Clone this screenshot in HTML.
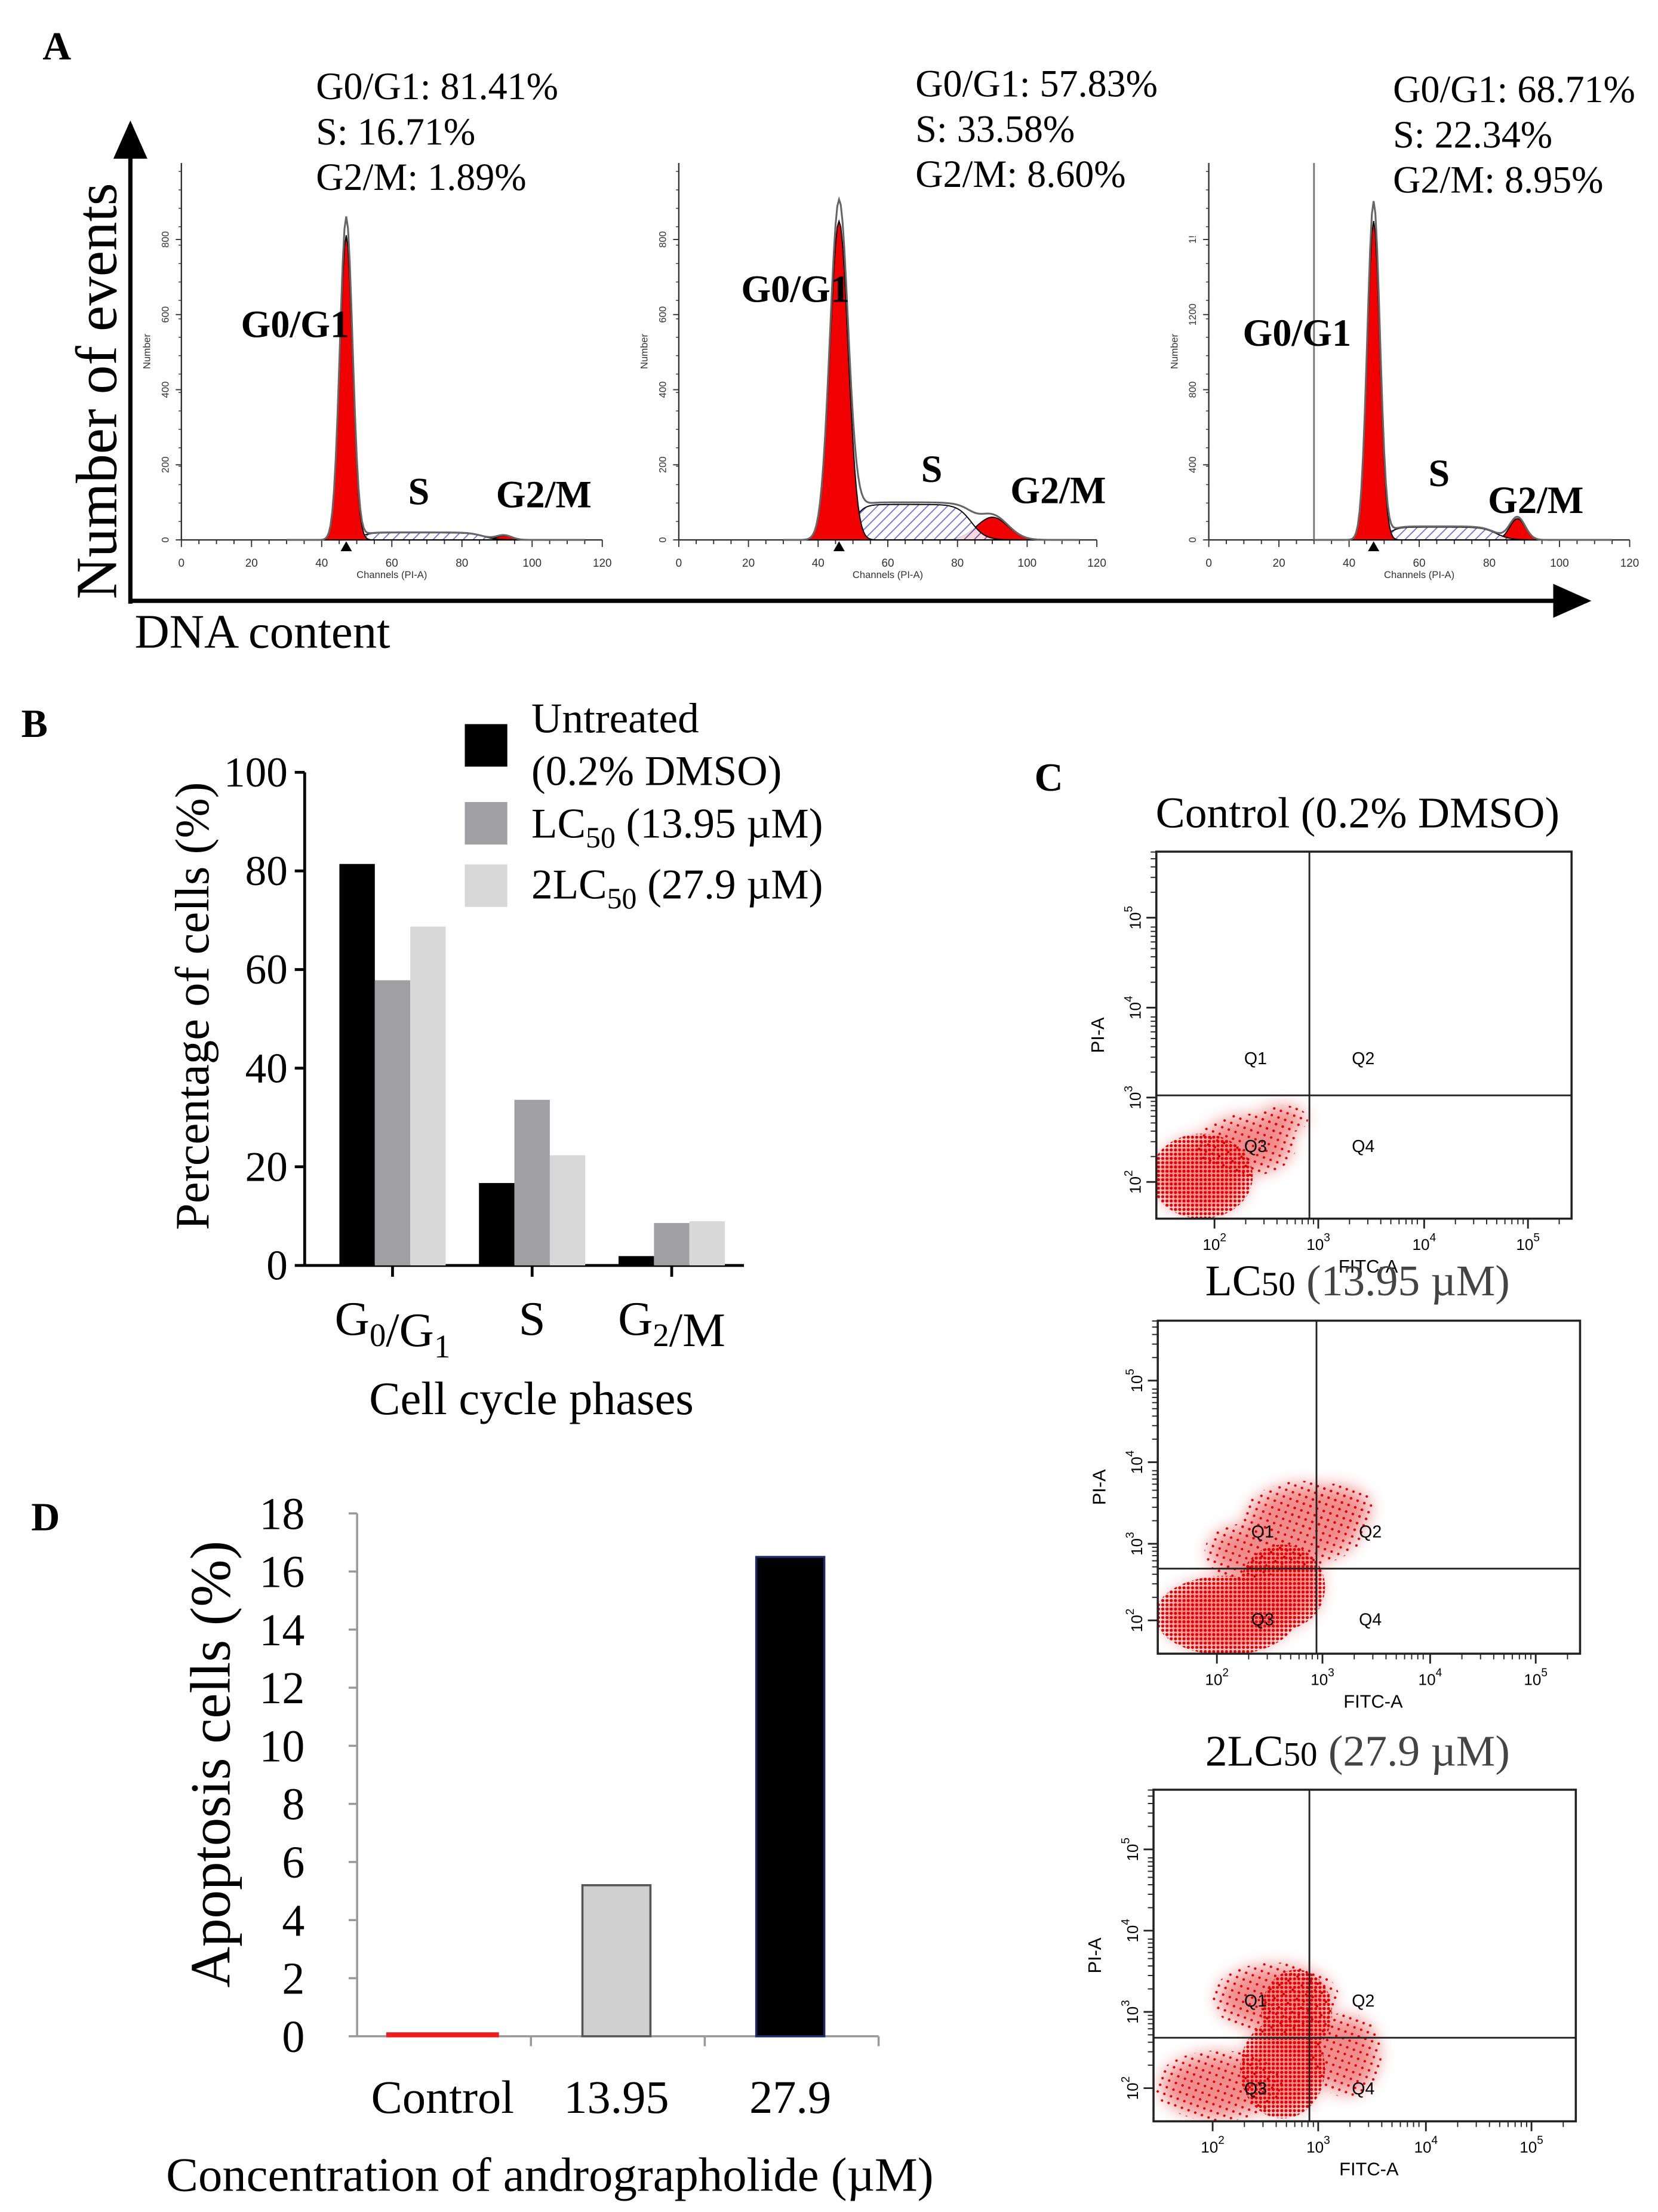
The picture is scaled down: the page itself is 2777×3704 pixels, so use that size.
<!DOCTYPE html>
<html><head><meta charset="utf-8"><style>
html,body{margin:0;padding:0;background:#fff}
svg{display:block}
.serif{font-family:"Liberation Serif",serif}
.sans{font-family:"Liberation Sans",sans-serif}
</style></head><body>
<svg id="fig" width="2777" height="3704" viewBox="0 0 1170 1561" preserveAspectRatio="none" xmlns="http://www.w3.org/2000/svg">
<defs>
<pattern id="hatch" width="5" height="5" patternUnits="userSpaceOnUse" patternTransform="rotate(45)">
<rect width="5" height="5" fill="#fff"/><line x1="0" y1="0" x2="0" y2="5" stroke="#4a4ad0" stroke-width="1.4"/></pattern>
<pattern id="dots" width="3" height="3" patternUnits="userSpaceOnUse">
<circle cx="1.5" cy="1.5" r="1.1" fill="#e00000"/></pattern>
<pattern id="dots2" width="5" height="5" patternUnits="userSpaceOnUse" patternTransform="rotate(20)">
<circle cx="2.5" cy="2.5" r="0.9" fill="#e00000"/></pattern>
<filter id="blur" x="-50%" y="-50%" width="200%" height="200%"><feGaussianBlur stdDeviation="6"/></filter>
<marker id="arr" markerWidth="10" markerHeight="10" refX="8" refY="5" orient="auto"><path d="M0,1 L9,5 L0,9 Z" fill="#000"/></marker>
</defs>
<g id="panelA"></g>
<g id="panelB"></g>
<g id="panelC"></g>
<g id="panelD"></g>
</svg>
<script>
// ---- Panel B data ----
const phaseLabels = ["G0/G1", "S", "G2/M"];
const untreatedVals = [81.41, 16.71, 1.89];
const lc50Vals = [57.83, 33.58, 8.60];
const lc2Vals = [68.71, 22.34, 8.95];
const bTicks = [0, 20, 40, 60, 80, 100];
// ---- Panel D data ----
const concLabels = ["Control", "13.95", "27.9"];
const apoptosisVals = [0.1, 5.2, 16.5];
const dTicks = [0, 2, 4, 6, 8, 10, 12, 14, 16, 18];
// ---- Panel A histogram parameters ----
const g1Mean = [47, 46, 47];
const g1Height = [215, 225, 225];
const sLevel = [5, 25, 9];
const g2Mean = [92, 90, 88];
const g2Height = [3, 16, 15];
const statG1 = ["81.41%", "57.83%", "68.71%"];
const statS = ["16.71%", "33.58%", "22.34%"];
const statG2 = ["1.89%", "8.60%", "8.95%"];

const NS = "http://www.w3.org/2000/svg";
function el(tag, attrs, parent, text) {
  const e = document.createElementNS(NS, tag);
  for (const k in attrs) e.setAttribute(k, attrs[k]);
  if (text !== undefined) e.textContent = text;
  parent.appendChild(e);
  return e;
}
const A = document.getElementById('panelA'), B = document.getElementById('panelB'),
      C = document.getElementById('panelC'), D = document.getElementById('panelD');

// ===== Panel A =====
let t = el('text', {x: 30, y: 42, 'font-size': 28, 'font-weight': 'bold', class: 'serif'}, A, 'A');
 
let ln = el('line', {x1: 92, y1: 426, x2: 92, y2: 88, stroke: '#000', 'stroke-width': 3, 'marker-end': 'url(#arr)'}, A);
 
ln = el('line', {x1: 92, y1: 424, x2: 1120, y2: 424, stroke: '#000', 'stroke-width': 3, 'marker-end': 'url(#arr)'}, A);
 
t = el('text', {x: 0, y: 0, transform: 'translate(82,276) rotate(-90)', 'text-anchor': 'middle', 'font-size': 41, class: 'serif'}, A, 'Number of events');
 
t = el('text', {x: 95, y: 457, 'font-size': 34, class: 'serif'}, A, 'DNA content');
 

const histX0 = [128, 479, 853], histX1 = [425, 774, 1150];
const statX = [223, 646, 983], statY = [70, 68, 72];
const labPos = [[170,238,288,356,350,358],[523,213,650,340,713,355],[877,244,1008,343,1050,362]];
const yTickSets = [["0","200","400","600","800"],["0","200","400","600","800"],["0","400","800","1200","1!"]];
for (let p = 0; p < 3; p++) {
  const g = el('g', {}, A);
   
  const x0 = histX0[p], x1 = histX1[p], base = 381, top = 115;
  const cx = ch => x0 + ch * (x1 - x0) / 120;
  ['G0/G1: ' + statG1[p], 'S: ' + statS[p], 'G2/M: ' + statG2[p]].forEach((s, i) => {
    const tt = el('text', {x: statX[p], y: statY[p] + i * 32, 'font-size': 27, class: 'serif'}, g, s);
     
  });
  el('line', {x1: x0, y1: top, x2: x0, y2: base, stroke: '#333', 'stroke-width': 1}, g);
  el('line', {x1: x0, y1: base, x2: x1, y2: base, stroke: '#333', 'stroke-width': 1}, g);
  for (let c = 0; c <= 120; c += 5) el('line', {x1: cx(c), y1: base, x2: cx(c), y2: base + (c % 20 === 0 ? 5 : 3), stroke: '#333', 'stroke-width': 0.8}, g);
  for (let c = 0; c <= 120; c += 20) el('text', {x: cx(c), y: base + 19, 'font-size': 8, 'text-anchor': 'middle', class: 'sans', fill: '#333'}, g, String(c));
  for (let k = 0; k < 5; k++) {
    const yy = base - k * 53;
    el('line', {x1: x0 - 4, y1: yy, x2: x0, y2: yy, stroke: '#333', 'stroke-width': 0.8}, g);
    el('text', {x: 0, y: 0, transform: `translate(${x0 - 9},${yy}) rotate(-90)`, 'font-size': 7, 'text-anchor': 'middle', class: 'sans', fill: '#333'}, g, yTickSets[p][k]);
  }
  for (let yy = base; yy > top; yy -= 13) el('line', {x1: x0 - 2, y1: yy, x2: x0, y2: yy, stroke: '#333', 'stroke-width': 0.6}, g);
  el('text', {x: 0, y: 0, transform: `translate(${x0 - 22},248) rotate(-90)`, 'font-size': 7, 'text-anchor': 'middle', class: 'sans', fill: '#333'}, g, 'Number');
  el('text', {x: cx(60), y: base + 27, 'font-size': 7, 'text-anchor': 'middle', class: 'sans', fill: '#333'}, g, 'Channels (PI-A)');
  if (p === 2) el('line', {x1: cx(30), y1: top, x2: cx(30), y2: base, stroke: '#777', 'stroke-width': 1.2}, g);
  const sd = p === 1 ? 2.6 : 1.8, sd2 = p === 1 ? 4.5 : 2.2;
  const G1 = c => g1Height[p] * Math.exp(-0.5 * ((c - g1Mean[p]) / sd) ** 2);
  const G2 = c => g2Height[p] * Math.exp(-0.5 * ((c - g2Mean[p]) / sd2) ** 2);
  const S = c => { const a = 1 / (1 + Math.exp(-(c - g1Mean[p] - 4) / 1.5)), b = 1 / (1 + Math.exp((c - g2Mean[p] + 6) / 2)); return sLevel[p] * a * b; };
  const path = f => { let d = `M${cx(30)},${base}`; for (let c = 30; c <= 115; c += 0.5) d += ` L${cx(c).toFixed(2)},${(base - f(c)).toFixed(2)}`; return d + ` L${cx(115)},${base} Z`; };
  let s = el('path', {d: path(G2), fill: '#f00000', stroke: '#000', 'stroke-width': 0.8}, g);
   
  s = el('path', {d: path(S), fill: 'url(#hatch)', 'fill-opacity': 0.85, stroke: '#000', 'stroke-width': 0.8}, g);
   
  s = el('path', {d: path(G1), fill: '#f00000', stroke: '#000', 'stroke-width': 0.8}, g);
   
  const tot = c => G1(c) + G2(c) + S(c);
  let d = ''; for (let c = 30; c <= 115; c += 0.5) d += (d ? ' L' : 'M') + cx(c).toFixed(2) + ',' + (base - tot(c) * 1.06).toFixed(2);
  el('path', {d: d, fill: 'none', stroke: '#666', 'stroke-width': 1.3}, g);
  el('path', {d: `M${cx(g1Mean[p]) - 4},${base + 8} L${cx(g1Mean[p]) + 4},${base + 8} L${cx(g1Mean[p])},${base + 1} Z`, fill: '#000'}, g);
  const lp = labPos[p];
  [['G0/G1', lp[0], lp[1]], ['S', lp[2], lp[3]], ['G2/M', lp[4], lp[5]]].forEach(q => {
    const tt = el('text', {x: q[1], y: q[2], 'font-size': 27, 'font-weight': 'bold', class: 'serif'}, g, q[0]);
     
  });
}

// ===== Panel B =====
t = el('text', {x: 15, y: 520, 'font-size': 28, 'font-weight': 'bold', class: 'serif'}, B, 'B');
 
const bx0 = 215, bx1 = 525, by0 = 893, by1 = 545;
const byS = v => by0 - v / 100 * (by0 - by1);
el('line', {x1: bx0, y1: by1, x2: bx0, y2: by0, stroke: '#000', 'stroke-width': 2}, B);
el('line', {x1: bx0, y1: by0, x2: bx1, y2: by0, stroke: '#000', 'stroke-width': 2}, B);
bTicks.forEach(v => {
  el('line', {x1: bx0 - 7, y1: byS(v), x2: bx0, y2: byS(v), stroke: '#000', 'stroke-width': 2}, B);
  const tt = el('text', {x: bx0 - 12, y: byS(v) + 10, 'font-size': 30, 'text-anchor': 'end', class: 'serif'}, B, String(v));
   
});
const groupW = 98.5, barW = 25;
const series = [[untreatedVals, '#000'], [lc50Vals, '#a0a0a4'], [lc2Vals, '#d8d8d8']];
phaseLabels.forEach((lab, i) => {
  const gc = 277 + groupW * i;
  series.forEach((s, j) => {
    const r = el('rect', {x: gc - 1.5 * barW + j * barW, y: byS(s[0][i]), width: barW, height: by0 - byS(s[0][i]), fill: s[1]}, B);
     
  });
  el('line', {x1: gc, y1: by0, x2: gc, y2: by0 + 8, stroke: '#000', 'stroke-width': 2}, B);
  const parts = lab === 'S' ? [['S', '']] : [[lab[0], lab[1]], [lab.slice(2, 4), lab[4]]];
  const tt = el('text', {x: gc, y: 942, 'font-size': 34, 'text-anchor': 'middle', class: 'serif'}, B);
   
  parts.forEach(pp => { el('tspan', {}, tt, pp[0]); if (pp[1]) { el('tspan', {'font-size': 23, dy: 8}, tt, pp[1]); el('tspan', {dy: -8}, tt, ''); } });
});
t = el('text', {x: 375, y: 998, 'font-size': 33, 'text-anchor': 'middle', class: 'serif'}, B, 'Cell cycle phases');
 
t = el('text', {x: 0, y: 0, transform: 'translate(147,710) rotate(-90)', 'font-size': 34, 'text-anchor': 'middle', class: 'serif'}, B, 'Percentage of cells (%)');
 
const leg = el('g', {}, B);  
[['#000', 511], ['#a0a0a4', 566], ['#d8d8d8', 610]].forEach(q => el('rect', {x: 328, y: q[1], width: 30, height: 30, fill: q[0]}, leg));
el('text', {x: 375, y: 517, 'font-size': 30, class: 'serif'}, leg, 'Untreated');
el('text', {x: 375, y: 554, 'font-size': 30, class: 'serif'}, leg, '(0.2% DMSO)');
let lt = el('text', {x: 375, y: 591, 'font-size': 30, class: 'serif'}, leg); el('tspan', {}, lt, 'LC'); el('tspan', {'font-size': 21, dy: 7}, lt, '50'); el('tspan', {dy: -7}, lt, ' (13.95 µM)');
lt = el('text', {x: 375, y: 634, 'font-size': 30, class: 'serif'}, leg); el('tspan', {}, lt, '2LC'); el('tspan', {'font-size': 21, dy: 7}, lt, '50'); el('tspan', {dy: -7}, lt, ' (27.9 µM)');

// ===== Panel D =====
t = el('text', {x: 22, y: 1080, 'font-size': 28, 'font-weight': 'bold', class: 'serif'}, D, 'D');
 
const dx0 = 252, dx1 = 620, dy0 = 1437, dy1 = 1068;
const dyS = v => dy0 - v / 18 * (dy0 - dy1);
el('line', {x1: dx0, y1: dy1, x2: dx0, y2: dy0, stroke: '#999', 'stroke-width': 1.5}, D);
el('line', {x1: dx0, y1: dy0, x2: dx1, y2: dy0, stroke: '#999', 'stroke-width': 1.5}, D);
dTicks.forEach(v => {
  el('line', {x1: dx0 - 6, y1: dyS(v), x2: dx0, y2: dyS(v), stroke: '#999', 'stroke-width': 1.5}, D);
  const tt = el('text', {x: dx0 - 37, y: dyS(v) + 11, 'font-size': 32, 'text-anchor': 'end', class: 'serif'}, D, String(v));
   
});
const dGroup = (dx1 - dx0) / 3;
const dFills = [['#ee1c1c', '#ee1c1c'], ['#d0d0d0', '#555'], ['#000', '#1a2a6a']];
const dWidths = [78, 48, 48];
concLabels.forEach((lab, i) => {
  const c = dx0 + dGroup * (i + 0.5) - 1;
  const r = el('rect', {x: c - dWidths[i] / 2, y: dyS(apoptosisVals[i]), width: dWidths[i], height: Math.max(2, dy0 - dyS(apoptosisVals[i])), fill: dFills[i][0], stroke: dFills[i][1], 'stroke-width': 1.5}, D);
   
  el('line', {x1: dx0 + dGroup * (i + 1), y1: dy0, x2: dx0 + dGroup * (i + 1), y2: dy0 + 7, stroke: '#999', 'stroke-width': 1.5}, D);
  const tt = el('text', {x: c, y: 1491, 'font-size': 33, 'text-anchor': 'middle', class: 'serif'}, D, lab);
   
});
t = el('text', {x: 388, y: 1546, 'font-size': 34, 'text-anchor': 'middle', class: 'serif'}, D, 'Concentration of andrographolide (µM)');
 
t = el('text', {x: 0, y: 0, transform: 'translate(162,1245) rotate(-90)', 'font-size': 40, 'text-anchor': 'middle', class: 'serif'}, D, 'Apoptosis cells (%)');
 

// ===== Panel C =====
t = el('text', {x: 730, y: 558, 'font-size': 28, 'font-weight': 'bold', class: 'serif'}, C, 'C');
 
const plots = [
  {title: 'Control (0.2% DMSO)', ty: 584, x0: 816, x1: 1109, y0: 601, y1: 860, qx: 924, qy: 773,
   blobs: [[848, 830, 36, 30, 'dots'], [880, 808, 35, 22, 'dots2'], [905, 790, 18, 10, 'dots2']]},
  {title: 'LC50 (13.95 µM)', ty: 914, x0: 817, x1: 1115, y0: 932, y1: 1167, qx: 929, qy: 1107,
   blobs: [[865, 1140, 50, 28, 'dots'], [905, 1120, 30, 30, 'dots'], [920, 1075, 45, 30, 'dots2'], [940, 1065, 30, 18, 'dots2'], [880, 1095, 30, 20, 'dots2']]},
  {title: '2LC50 (27.9 µM)', ty: 1246, x0: 814, x1: 1112, y0: 1263, y1: 1497, qx: 924, qy: 1438,
   blobs: [[860, 1472, 45, 25, 'dots2'], [905, 1460, 30, 35, 'dots'], [915, 1420, 25, 30, 'dots'], [900, 1410, 45, 25, 'dots2'], [950, 1450, 25, 30, 'dots2']]}
];
plots.forEach((pl, i) => {
  const g = el('g', {}, C);
   
  const tt = el('text', {x: 958, y: pl.ty, 'font-size': 31, 'text-anchor': 'middle', class: 'serif'}, g);
  if (i === 0) tt.textContent = pl.title;
  else { const pre = i === 1 ? 'LC' : '2LC'; el('tspan', {}, tt, pre); el('tspan', {'font-size': 24}, tt, '50'); el('tspan', {fill: '#444'}, tt, pl.title.slice(pre.length + 2)); }
   
  const cp = el('clipPath', {id: 'clip' + i}, g);
  el('rect', {x: pl.x0, y: pl.y0, width: pl.x1 - pl.x0, height: pl.y1 - pl.y0}, cp);
  const bg = el('g', {'clip-path': `url(#clip${i})`}, g);
   
  const soft = el('g', {filter: 'url(#blur)', opacity: 0.45}, bg);
  pl.blobs.forEach(b => el('ellipse', {cx: b[0], cy: b[1], rx: b[2] * 0.9, ry: b[3] * 0.9, fill: '#e00000'}, soft));
  pl.blobs.forEach(b => el('ellipse', {cx: b[0], cy: b[1], rx: b[2], ry: b[3], fill: 'url(#' + b[4] + ')'}, bg));
  el('rect', {x: pl.x0, y: pl.y0, width: pl.x1 - pl.x0, height: pl.y1 - pl.y0, fill: 'none', stroke: '#222', 'stroke-width': 1.5}, g);
  el('line', {x1: pl.qx, y1: pl.y0, x2: pl.qx, y2: pl.y1, stroke: '#222', 'stroke-width': 1.2}, g);
  el('line', {x1: pl.x0, y1: pl.qy, x2: pl.x1, y2: pl.qy, stroke: '#222', 'stroke-width': 1.2}, g);
  const w = pl.x1 - pl.x0, h = pl.y1 - pl.y0;
  const dec = [0.14, 0.39, 0.645, 0.895];
  const decY = [0.1, 0.33, 0.575, 0.82];
  dec.forEach((f, k) => {
    const x = pl.x0 + w * f, y = pl.y1 - h * decY[k];
    el('line', {x1: x, y1: pl.y1, x2: x, y2: pl.y1 + 7, stroke: '#222', 'stroke-width': 1.2}, g);
    for (let m = 1; m < 9; m++) { const xm = x + w * 0.25 * Math.log10(m + 1); if (xm < pl.x1) el('line', {x1: xm, y1: pl.y1, x2: xm, y2: pl.y1 + 4, stroke: '#222', 'stroke-width': 0.8}, g); }
    const lx = el('text', {x: x, y: pl.y1 + 22, 'font-size': 11, 'text-anchor': 'middle', class: 'sans'}, g); el('tspan', {}, lx, '10'); el('tspan', {'font-size': 8, dy: -6}, lx, String(k + 2));
    el('line', {x1: pl.x0 - 7, y1: y, x2: pl.x0, y2: y, stroke: '#222', 'stroke-width': 1.2}, g);
    for (let m = 1; m < 9; m++) { const ym = y - h * 0.23 * Math.log10(m + 1); if (ym > pl.y0) el('line', {x1: pl.x0 - 4, y1: ym, x2: pl.x0, y2: ym, stroke: '#222', 'stroke-width': 0.8}, g); }
    const ly = el('text', {x: 0, y: 0, transform: `translate(${pl.x0 - 11},${y}) rotate(-90)`, 'font-size': 11, 'text-anchor': 'middle', class: 'sans'}, g); el('tspan', {}, ly, '10'); el('tspan', {'font-size': 8, dy: -6}, ly, String(k + 2));
  });
  el('text', {x: (pl.x0 + pl.x1) / 2 + 3, y: pl.y1 + 38, 'font-size': 13, 'text-anchor': 'middle', class: 'sans'}, g, 'FITC-A');
  el('text', {x: 0, y: 0, transform: `translate(${pl.x0 - 37},${(pl.y0 + pl.y1) / 2}) rotate(-90)`, 'font-size': 13, 'text-anchor': 'middle', class: 'sans'}, g, 'PI-A');
  [['Q1', pl.qx - 38, pl.qy - 22], ['Q2', pl.qx + 38, pl.qy - 22], ['Q3', pl.qx - 38, pl.qy + 40], ['Q4', pl.qx + 38, pl.qy + 40]].forEach(q => {
    el('text', {x: q[1], y: q[2], 'font-size': 12, 'text-anchor': 'middle', class: 'sans'}, g, q[0]);
  });
});
</script>
</body></html>
